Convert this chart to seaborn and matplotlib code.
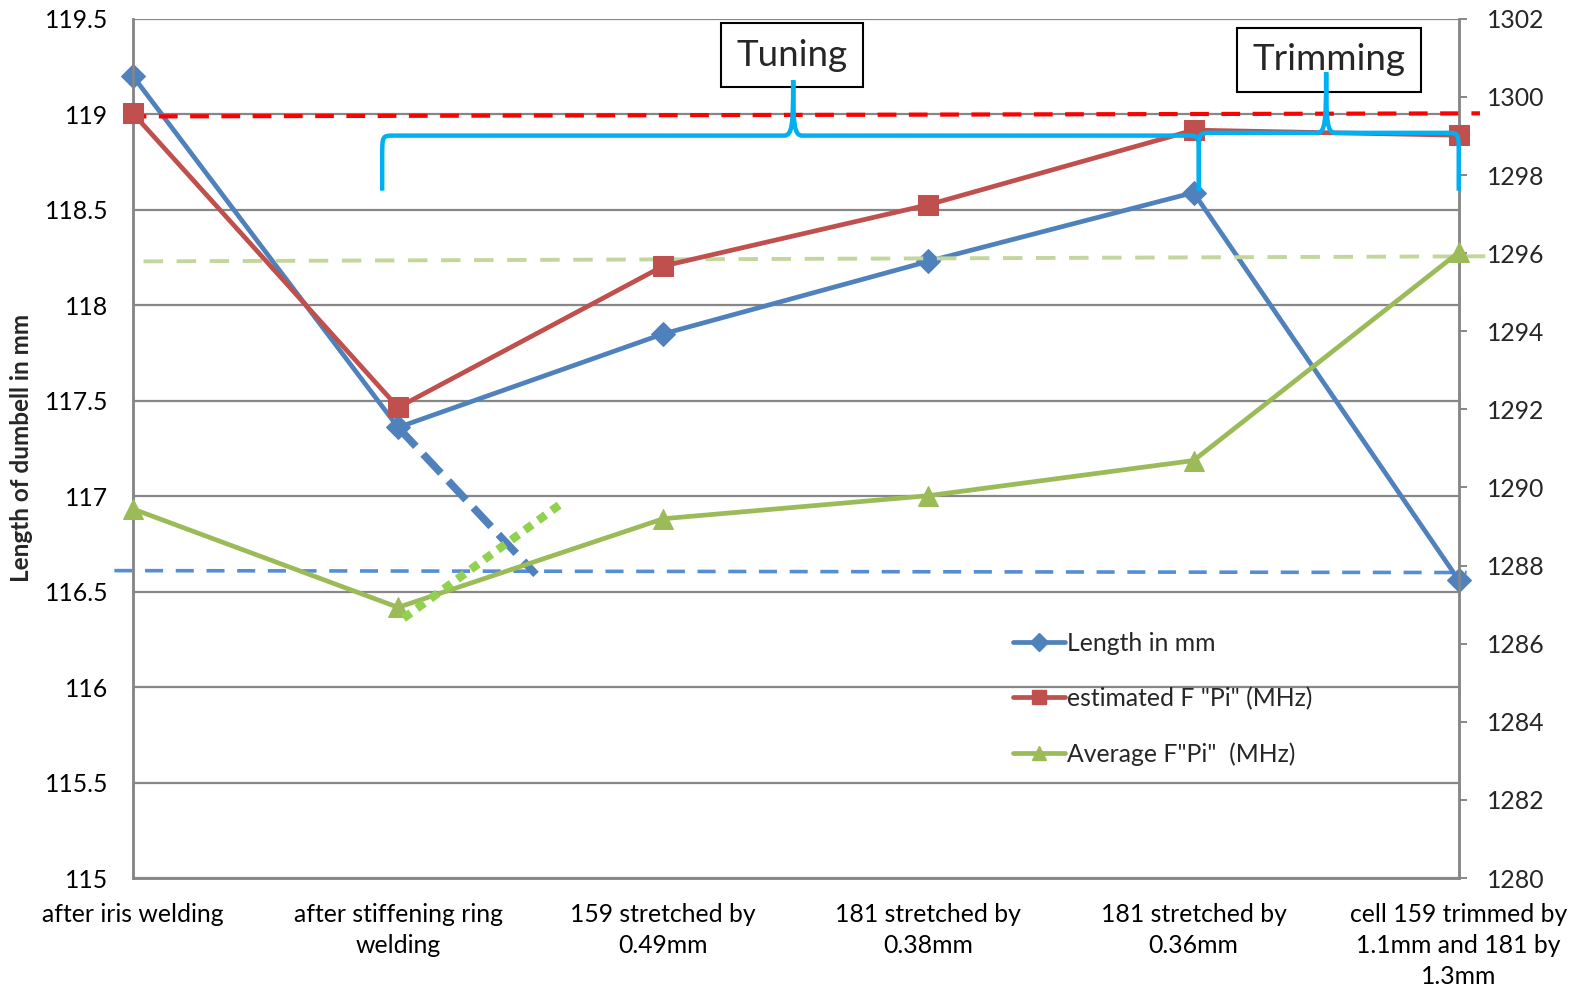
import matplotlib
matplotlib.use("Agg")
import matplotlib.pyplot as plt
import seaborn as sns
import pandas as pd
from matplotlib.path import Path
from matplotlib.patches import PathPatch
from matplotlib.lines import Line2D

# ---- data -------------------------------------------------------------
stages = [
    "after iris welding",
    "after stiffening ring\nwelding",
    "159 stretched by\n0.49mm",
    "181 stretched by\n0.38mm",
    "181 stretched by\n0.36mm",
    "cell 159 trimmed by\n1.1mm and 181 by\n1.3mm",
]
length_mm = [119.20, 117.36, 117.85, 118.23, 118.59, 116.56]
est_f_pi = [1299.58, 1292.05, 1295.67, 1297.24, 1299.15, 1299.02]
avg_f_pi = [1289.45, 1286.93, 1289.20, 1289.79, 1290.69, 1296.02]

left_ticks = [115, 115.5, 116, 116.5, 117, 117.5, 118, 118.5, 119, 119.5]
left_tick_labels = ["115", "115.5", "116", "116.5", "117", "117.5", "118", "118.5", "119", "119.5"]
right_ticks = [1280, 1282, 1284, 1286, 1288, 1290, 1292, 1294, 1296, 1298, 1300, 1302]

# reference levels and trend guides (start / end values)
target_f_x = [-0.02, 5.08]
target_f = [1299.50, 1299.58]
avg_level_x = [0.04, 5.10]
avg_level_f = [1295.79, 1295.92]
length_level_x = [-0.07, 5.03]
length_level = [116.61, 116.60]
length_trend_x = [1.0, 1.52]
length_trend = [117.36, 116.59]
avg_trend_x = [1.02, 1.63]
avg_trend = [1286.65, 1289.66]

# ---- style ------------------------------------------------------------
sns.set_theme(style="white")
plt.rcParams["font.family"] = ["Lato", "DejaVu Sans"]

BLUE = "#4F81BD"
RED = "#C0504D"
GREEN = "#9BBB59"
GRID = "#878787"
CYAN = "#00B0F0"
FS = 17.8

fig = plt.figure(figsize=(15.77, 9.91), dpi=100)
ax = fig.add_axes([0.0843, 0.114, 0.8407, 0.867])
ax2 = ax.twinx()

pos = list(range(len(stages)))
df = pd.DataFrame({"pos": pos, "length": length_mm, "est": est_f_pi, "avg": avg_f_pi})

sns.lineplot(data=df, x="pos", y="length", ax=ax, color=BLUE, lw=3.4,
             marker="D", markersize=12, markeredgecolor=BLUE, zorder=3,
             legend=False, clip_on=False)
sns.lineplot(data=df, x="pos", y="est", ax=ax2, color=RED, lw=3.4,
             marker="s", markersize=14, markeredgecolor=RED, zorder=3,
             legend=False, clip_on=False)
sns.lineplot(data=df, x="pos", y="avg", ax=ax2, color=GREEN, lw=3.4,
             marker="^", markersize=15, markeredgecolor=GREEN, zorder=3,
             legend=False, clip_on=False)

# reference levels
ax.plot(length_level_x, length_level, color="#558ED5", lw=2.6, dashes=(5, 3.5),
        clip_on=False, zorder=2)
ax.plot(length_trend_x, length_trend, color=BLUE, lw=5.5, dashes=(3.4, 1.4),
        solid_capstyle="butt", dash_capstyle="butt", zorder=4)
ax2.plot(target_f_x, target_f, color="#FF0000", lw=3, dashes=(4.5, 3),
         clip_on=False, zorder=2)
ax2.plot(avg_level_x, avg_level_f, color="#C3D69B", lw=2.8, dashes=(5, 3.5),
         clip_on=False, zorder=2)
ax2.plot(avg_trend_x, avg_trend, color="#92D050", lw=6, dashes=(1.1, 0.9),
         dash_capstyle="butt", zorder=4)

# ---- axes -------------------------------------------------------------
ax.set_xlim(0, 5)
ax.set_ylim(115, 119.5)
ax2.set_ylim(1280, 1302)
ax.set_xticks(pos)
ax.set_xticklabels(stages, fontsize=FS, linespacing=1.42)
ax.set_yticks(left_ticks)
ax.set_yticklabels(left_tick_labels, fontsize=FS)
ax2.set_yticks(right_ticks)
ax2.set_yticklabels([str(t) for t in right_ticks], fontsize=FS)
ax.set_xlabel("")
ax.set_ylabel("Length of dumbell in mm", fontsize=17.5, fontweight="bold", labelpad=8)
ax2.set_ylabel("")

ax.grid(axis="y", color=GRID, lw=1.6)
ax.grid(axis="x", visible=False)
ax.tick_params(axis="y", length=0, pad=18, colors="black")
ax.tick_params(axis="x", length=0, pad=18, colors="black")
ax2.tick_params(axis="y", length=6, width=1.4, color=GRID, pad=14, direction="out")
for a in (ax, ax2):
    for side in ("left", "right", "bottom", "top"):
        a.spines[side].set_color(GRID)
        a.spines[side].set_linewidth(1.8)
    a.spines["top"].set_visible(False)
ax2.patch.set_visible(False)


# ---- curly braces ------------------------------------------------------
def brace(axis, x0, x1, xm, y_bar, y_end, y_peak):
    dx = 0.045
    c = 0.55
    w = 0.035
    verts = [
        (x0, y_end), (x0, y_bar - c),
        (x0, y_bar), (x0, y_bar), (x0 + dx, y_bar),
        (xm - w, y_bar),
        (xm - 0.004, y_bar), (xm, y_bar + 0.25), (xm, y_peak),
        (xm, y_bar + 0.25), (xm + 0.004, y_bar), (xm + w, y_bar),
        (x1 - dx, y_bar),
        (x1, y_bar), (x1, y_bar), (x1, y_bar - c),
        (x1, y_end),
    ]
    codes = [
        Path.MOVETO, Path.LINETO,
        Path.CURVE4, Path.CURVE4, Path.CURVE4,
        Path.LINETO,
        Path.CURVE4, Path.CURVE4, Path.CURVE4,
        Path.CURVE4, Path.CURVE4, Path.CURVE4,
        Path.LINETO,
        Path.CURVE4, Path.CURVE4, Path.CURVE4,
        Path.LINETO,
    ]
    axis.add_patch(PathPatch(Path(verts, codes), fill=False, ec=CYAN, lw=3.2,
                             clip_on=False, zorder=6, capstyle="butt"))


brace(ax2, 0.94, 4.02, 2.49, 1299.01, 1297.60, 1300.43)
brace(ax2, 4.02, 5.0, 4.50, 1299.08, 1297.60, 1300.63)

box = dict(boxstyle="square,pad=0.42", fc="white", ec="black", lw=1.5)
ax2.text(2.485, 1301.07, "Tuning", ha="center", va="center", fontsize=26.5,
         bbox=box, zorder=5)
ax2.text(4.51, 1300.95, "Trimming", ha="center", va="center", fontsize=26.5,
         bbox=box, zorder=5)

# ---- legend ------------------------------------------------------------
handles = [
    Line2D([], [], color=BLUE, lw=3.4, marker="D", markersize=9, mec=BLUE),
    Line2D([], [], color=RED, lw=3.4, marker="s", markersize=10, mec=RED),
    Line2D([], [], color=GREEN, lw=3.4, marker="^", markersize=10, mec=GREEN),
]
labels = ["Length in mm", 'estimated F "Pi" (MHz)', 'Average F"Pi"  (MHz)']
fig.legend(handles, labels, loc="upper left", bbox_to_anchor=(0.628, 0.385),
           frameon=False, fontsize=FS, handlelength=2.1, handletextpad=0.12,
           labelspacing=1.3)

fig.savefig("out.png", dpi=100)
